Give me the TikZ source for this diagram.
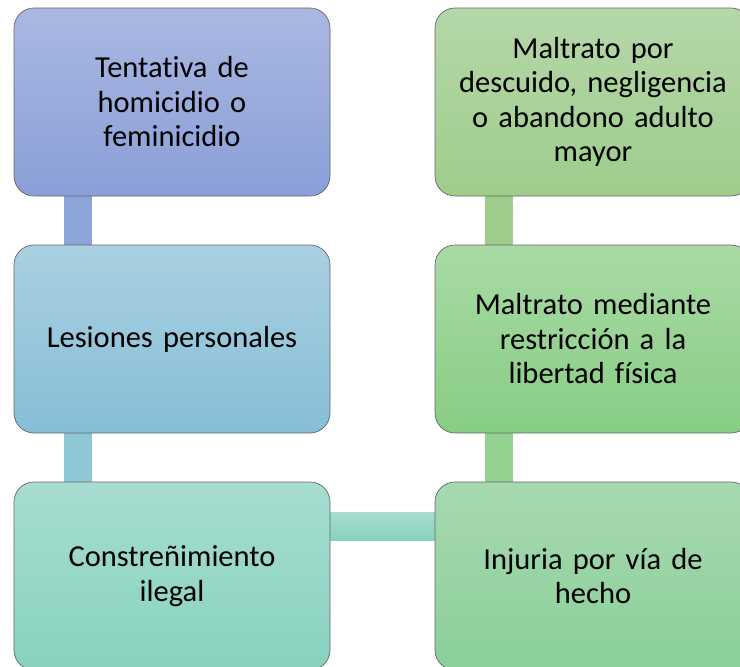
\documentclass[tikz,border=0pt]{standalone}
\usepackage{fontspec}
\setmainfont{Carlito}[Ligatures=NoCommon]
\usepackage{xcolor}
\usetikzlibrary{backgrounds,calc}
\definecolor{blue_top}{HTML}{AAB8E1}
\definecolor{blue_bot}{HTML}{8A9FD8}
\definecolor{sky_top}{HTML}{A9D0E1}
\definecolor{sky_bot}{HTML}{86BED6}
\definecolor{teal_top}{HTML}{A7DDD0}
\definecolor{teal_bot}{HTML}{87D2BE}
\definecolor{olive_top}{HTML}{B5D7A9}
\definecolor{olive_bot}{HTML}{9ECD8B}
\definecolor{green_top}{HTML}{A9DAA5}
\definecolor{green_bot}{HTML}{87CD83}
\definecolor{mint_top}{HTML}{A7D9B1}
\definecolor{mint_bot}{HTML}{8ACF99}
\tikzset{
  crime/.style={rounded corners=20pt, draw=gray!80!black, line width=0.7pt,
    minimum width=316pt, minimum height=188pt, text width=300pt, align=center,
    font=\fontsize{30.5}{34.5}\selectfont, inner sep=0pt},
  bar/.style={line width=28pt}
}

\begin{document}
\begin{tikzpicture}
    % Page frame: 740 x 667 (cropped on right and bottom)
    \useasboundingbox (0,0) rectangle (740pt,-667pt);
    \clip (0,0) rectangle (740pt,-667pt);

    % Left column
    \node[crime, top color=blue_top, bottom color=blue_bot] (c1) at (172pt,-102pt)
      {Tentativa de\\homicidio o\\feminicidio};
    \node[crime, top color=sky_top, bottom color=sky_bot] (c2) at (172pt,-339pt)
      {Lesiones personales};
    \node[crime, top color=teal_top, bottom color=teal_bot] (c3) at (172pt,-576pt)
      {Constreñimiento\\ilegal};

    % Right column
    \node[crime, top color=olive_top, bottom color=olive_bot] (d1) at (593pt,-102pt)
      {Maltrato por\\descuido, negligencia\\o abandono adulto\\mayor};
    \node[crime, top color=green_top, bottom color=green_bot] (d2) at (593pt,-339pt)
      {Maltrato mediante\\restricción a la\\libertad física};
    \node[crime, top color=mint_top, bottom color=mint_bot] (d3) at (593pt,-576pt)
      {Injuria por vía de\\hecho};

    % Connecting bars behind the boxes
    \begin{scope}[on background layer]
      \draw[bar, color=blue_bot!90!sky_top] ([xshift=64pt]c1.south west) -- ([xshift=64pt]c2.north west);
      \draw[bar, color=sky_bot!70!teal_top] ([xshift=64pt]c2.south west) -- ([xshift=64pt]c3.north west);
      \shade[top color=teal_top, bottom color=teal_bot]
        ($(c3.north east)+(-2pt,-31pt)$) rectangle ($(d3.north west)+(2pt,-59pt)$);
      \draw[bar, color=olive_bot] ([xshift=64pt]d1.south west) -- ([xshift=64pt]d2.north west);
      \draw[bar, color=green_bot!90!white] ([xshift=64pt]d2.south west) -- ([xshift=64pt]d3.north west);
    \end{scope}

\end{tikzpicture}
\end{document}
